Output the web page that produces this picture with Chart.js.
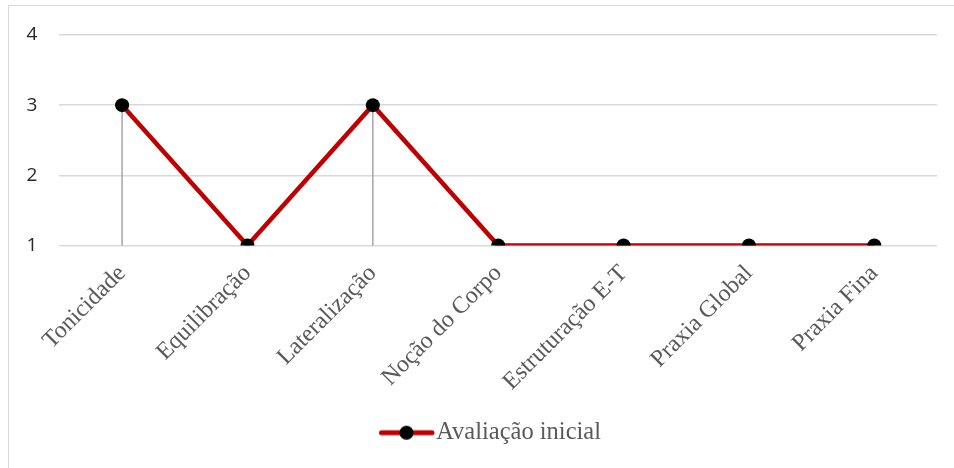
<!DOCTYPE html>
<html>
<head>
<meta charset="utf-8">
<script src="https://cdn.jsdelivr.net/npm/chart.js@4"></script>
<style>
  html, body { margin: 0; padding: 0; background: #fff; }
  #wrap { position: relative; width: 954px; height: 468px; overflow: hidden; }
  #frame { position: absolute; left: 8px; top: 5px; width: 980px; height: 500px; border: 1.5px solid #d9d9d9; }
  #line-chart { position: absolute; left: 0; top: 0; }
</style>
</head>
<body>
<div id="wrap">
  <div id="frame"></div>
  <canvas id="line-chart" width="954" height="468"></canvas>
</div>
<script>
// dados
var categorias = ["Tonicidade", "Equilibração", "Lateralização", "Noção do Corpo", "Estruturação E-T", "Praxia Global", "Praxia Fina"];
var avaliacaoInicial = [3, 1, 3, 1, 1, 1, 1];
var nomeSerie = "Avaliação inicial";
var ticksY = [1, 2, 3, 4];

var VERMELHO = "#c00000";

// marcador da legenda: linha vermelha com ponto preto
function marcadorLegenda() {
  var c = document.createElement("canvas");
  c.width = 110; c.height = 16;
  var g = c.getContext("2d");
  g.strokeStyle = VERMELHO;
  g.lineWidth = 5;
  g.lineCap = "round";
  g.beginPath(); g.moveTo(56.5, 8); g.lineTo(107, 8); g.stroke();
  g.fillStyle = "#000";
  g.beginPath(); g.arc(81.5, 8, 7, 0, Math.PI * 2); g.fill();
  return c;
}

// linhas verticais de cada ponto ate o eixo
var linhasQueda = {
  id: "linhasQueda",
  beforeDatasetsDraw: function(chart) {
    var ctx = chart.ctx, x = chart.scales.x, y = chart.scales.y;
    var base = y.getPixelForValue(y.min);
    ctx.save();
    ctx.strokeStyle = "#a6a6a6";
    ctx.lineWidth = 1.5;
    chart.data.datasets[0].data.forEach(function(v, i) {
      var px = x.getPixelForValue(i);
      ctx.beginPath();
      ctx.moveTo(px, y.getPixelForValue(v));
      ctx.lineTo(px, base);
      ctx.stroke();
    });
    ctx.restore();
  }
};

var dataPlot = new Chart(document.getElementById("line-chart"), {
  type: "line",
  data: {
    labels: categorias,
    datasets: [{
      label: nomeSerie,
      data: avaliacaoInicial,
      borderColor: VERMELHO,
      borderWidth: 4.5,
      pointRadius: 7,
      pointBackgroundColor: "#000",
      pointBorderColor: "#000",
      pointBorderWidth: 0,
      tension: 0,
      fill: false
    }]
  },
  options: {
    responsive: false,
    animation: false,
    layout: { padding: { top: 35, right: 17, bottom: 13, left: 0 } },
    plugins: {
      tooltip: { enabled: false },
      legend: {
        position: "bottom",
        labels: {
          usePointStyle: true,
          pointStyleWidth: 88,
          padding: 10,
          color: "#595959",
          font: { family: "'Liberation Serif', 'Times New Roman', serif", size: 24.5 },
          generateLabels: function(chart) {
            return [{
              text: nomeSerie,
              pointStyle: marcadorLegenda(),
              fontColor: "#595959",
              lineWidth: 0,
              datasetIndex: 0
            }];
          }
        }
      }
    },
    scales: {
      x: {
        offset: true,
        grid: { display: false },
        border: { display: false },
        ticks: {
          autoSkip: false,
          minRotation: 45,
          maxRotation: 45,
          padding: 6,
          color: "#595959",
          font: { family: "'Liberation Serif', 'Times New Roman', serif", size: 24 }
        },
        afterFit: function(s) { s.height = 165; }
      },
      y: {
        min: 1,
        max: 4,
        afterBuildTicks: function(s) { s.ticks = ticksY.map(function(v) { return { value: v }; }); },
        grid: { color: "#d9d9d9", lineWidth: 1.5, drawTicks: false },
        border: { display: false },
        ticks: {
          padding: 22,
          color: "#262626",
          font: { family: "'Open Sans', sans-serif", size: 19 }
        },
        afterFit: function(s) { s.width = 59.4; }
      }
    }
  },
  plugins: [linhasQueda]
});
</script>
</body>
</html>
